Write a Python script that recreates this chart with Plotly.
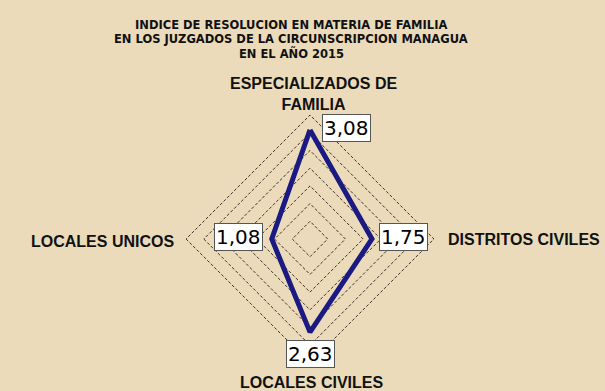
import math
import plotly.graph_objects as go

# Data
categories = ["ESPECIALIZADOS DE FAMILIA", "DISTRITOS CIVILES", "LOCALES CIVILES", "LOCALES UNICOS"]
category_labels = ["ESPECIALIZADOS DE<br>FAMILIA", "DISTRITOS CIVILES", "LOCALES CIVILES", "LOCALES UNICOS"]
values = [3.08, 1.75, 2.63, 1.08]
value_text = ["3,08", "1,75", "2,63", "1,08"]
title_lines = [
    "INDICE DE RESOLUCION EN MATERIA DE FAMILIA",
    "EN LOS JUZGADOS DE LA CIRCUNSCRIPCION MANAGUA",
    "EN EL AÑO 2015",
]

W, H = 605, 391
R_MAX = 3.53  # a touch above 3.5 so the outer dashed ring is still drawn

# polar area in pixels (center + radius)
cx_px, cy_px, rad_px = 310, 239, 125
dom_x = [(cx_px - rad_px) / W, (cx_px + rad_px) / W]
dom_y = [(H - cy_px - rad_px) / H, (H - cy_px + rad_px) / H]

fig = go.Figure()

fig.add_trace(go.Scatterpolar(
    r=values + values[:1],
    theta=categories + categories[:1],
    mode="lines",
    line=dict(color="#1a1a82", width=5),
    hoverinfo="skip",
    showlegend=False,
))


def to_paper(v, idx):
    # clockwise from top
    ang = math.pi / 2 - idx * 2 * math.pi / len(categories)
    d = v / R_MAX * rad_px
    return (cx_px + d * math.cos(ang)) / W, (H - cy_px + d * math.sin(ang)) / H


annotations = []

# value boxes
box_style = [
    dict(xanchor="left", yanchor="middle", xshift=12, yshift=2),
    dict(xanchor="left", yanchor="middle", xshift=7, yshift=2),
    dict(xanchor="center", yanchor="top", xshift=0, yshift=-8),
    dict(xanchor="right", yanchor="middle", xshift=-9, yshift=2),
]
for i, (v, t) in enumerate(zip(values, value_text)):
    px, py = to_paper(v, i)
    annotations.append(dict(
        x=px, y=py, xref="paper", yref="paper", text=t, showarrow=False,
        font=dict(family="DejaVu Sans", size=20, color="#000"),
        bgcolor="white", bordercolor="#555", borderwidth=1, borderpad=1,
        **box_style[i]
    ))

# category labels
cat_pos = [
    dict(x=313 / W, y=(H - 94) / H, xanchor="center", yanchor="middle"),
    dict(x=446 / W, y=(H - 239) / H, xanchor="left", yanchor="middle"),
    dict(x=311 / W, y=(H - 382) / H, xanchor="center", yanchor="middle"),
    dict(x=176 / W, y=(H - 241) / H, xanchor="right", yanchor="middle"),
]
for lab, pos in zip(category_labels, cat_pos):
    annotations.append(dict(
        xref="paper", yref="paper", text="<b>" + lab + "</b>", showarrow=False,
        font=dict(family="Arial, Liberation Sans", size=16, color="#111"),
        **pos
    ))

# title, one annotation per line
for k, line in enumerate(title_lines):
    annotations.append(dict(
        x=291 / W, y=(H - 25 - 14 * k) / H, xref="paper", yref="paper",
        xanchor="center", yanchor="middle", showarrow=False,
        text="<b>" + line + "</b>",
        font=dict(family="DejaVu Sans", size=11.5, color="#111"),
    ))

fig.update_layout(
    width=W, height=H,
    margin=dict(l=0, r=0, t=0, b=0),
    paper_bgcolor="#ebdbbb",
    plot_bgcolor="#ebdbbb",
    annotations=annotations,
    polar=dict(
        domain=dict(x=dom_x, y=dom_y),
        bgcolor="rgba(0,0,0,0)",
        gridshape="linear",
        radialaxis=dict(
            range=[0, R_MAX], tick0=0, dtick=0.5, showticklabels=False, ticks="",
            showline=False, gridcolor="#3a3226", gridwidth=0.8, griddash="3px,2px",
        ),
        angularaxis=dict(
            rotation=90, direction="clockwise", showticklabels=False, ticks="",
            showgrid=False, showline=False,
        ),
    ),
)

fig.write_html(
    "out.html",
    config={"displayModeBar": False},
    post_script="document.body.style.margin='0';",
)
